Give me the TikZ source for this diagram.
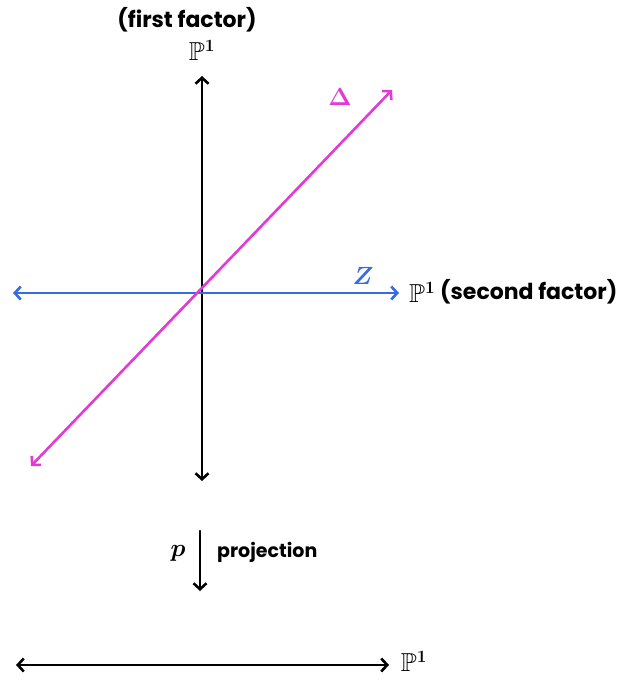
\documentclass[tikz,border=0pt]{standalone}
\usepackage{amssymb}
\usepackage{fontspec}
\setmainfont{Poppins}
\usetikzlibrary{arrows.meta}
\definecolor{zblue}{RGB}{52,108,230}
\definecolor{dmag}{RGB}{226,58,212}
\tikzset{
  ln/.style={line width=2.6pt, line cap=round, {Straight Barb[length=6pt,width=13pt,line width=2.6pt]}-{Straight Barb[length=6pt,width=13pt,line width=2.6pt]}},
  onearrow/.style={line width=2.6pt, line cap=round, -{Straight Barb[length=6pt,width=13pt,line width=2.6pt]}},
  lbl/.style={font=\fontsize{19}{22}\selectfont\bfseries, inner sep=0pt},
  biglbl/.style={font=\fontsize{22}{26}\selectfont\bfseries, inner sep=0pt},
  mlbl/.style={font=\fontsize{26}{30}\selectfont\boldmath, inner sep=0pt}
}
\begin{document}
\begin{tikzpicture}[x=1pt,y=-1pt]
\useasboundingbox (0,0) rectangle (628,680);
% vertical axis
\coordinate (vt) at (202,76);
\coordinate (vb) at (202,481);
\draw[ln] (vb) -- (vt);
\node[mlbl] (p1top) at (202,50) {$\mathbb{P}^1$};
\node[biglbl] (ff) at (187,20) {(first factor)};
% Z horizontal
\coordinate (zl) at (13,293);
\coordinate (zr) at (399,293);
\draw[ln, zblue] (zl) -- (zr);
\node[mlbl, zblue] (zlab) at (363,276) {$Z$};
\node[mlbl, anchor=west] (p1second) at (409,292) {$\mathbb{P}^1$};
\node[biglbl, anchor=west] (second) at (440,292) {(second factor)};
% Delta diagonal
\coordinate (dl) at (31,466);
\coordinate (dr) at (392,90);
\draw[ln, dmag] (dl) -- (dr);
\node[mlbl, dmag] (dlab) at (340,97) {$\Delta$};
% projection
\coordinate (pt) at (200,531);
\coordinate (pb) at (200,591);
\draw[onearrow] (pt) -- (pb);
\node[mlbl] (plab) at (178,553) {$p$};
\node[lbl, anchor=west] (proj) at (217,552) {projection};
% bottom line
\coordinate (bl) at (16,665);
\coordinate (br) at (389,665);
\draw[ln] (bl) -- (br);
\node[mlbl] (p1bot) at (414,661) {$\mathbb{P}^1$};
\end{tikzpicture}
\end{document}
